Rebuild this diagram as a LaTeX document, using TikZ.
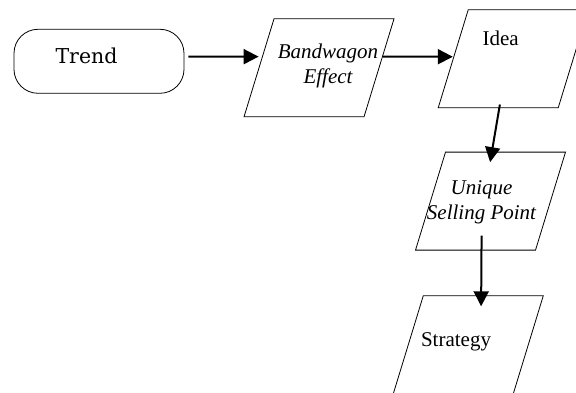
\documentclass[tikz,border=0pt]{standalone}
\usepackage{fontspec}
\setmainfont{Liberation Serif}
\newfontfamily\trendfont{DejaVu Serif}
\usetikzlibrary{arrows.meta}

\begin{document}
\begin{tikzpicture}[x=1pt, y=1pt,
    box/.style={draw, line width=0.8pt, inner sep=0pt},
    slantbox/.style={box, minimum width=120pt, minimum height=98pt,
      xslant=0.306, transform shape},
    txt/.style={font=\fontsize{21}{25}\selectfont, align=center, inner sep=0pt},
    flow/.style={line width=2pt, -{Triangle[length=15pt, width=15pt]}}]
      \useasboundingbox (0,0) rectangle (576,393);
      \clip (0,0) rectangle (576,393);
      % Trend:
      %   rounded start box on the left
      \node[box, rounded corners=24pt, minimum width=170pt, minimum height=64pt]
        (trend) at (99,331.7) {};
      \node[txt, font=\trendfont\fontsize{20.5}{25}\selectfont, anchor=base]
        (trendtext) at (86.5,329.7) {Trend};
      % Bandwagon:
      %   first slanted box, text in italics
      \node[slantbox] (bandwagon) at (319,325.15) {};
      \node[txt, anchor=base] (bandwagontext) at (328,309.7)
        {\itshape Bandwagon\\\itshape Effect};
      % Idea:
      %   top right box, cut by the page edge
      \node[slantbox] (idea) at (513.2,334.15) {};
      \node[txt, anchor=base] (ideatext) at (500.7,347) {Idea};
      % UniqueSellingPoint:
      %   middle box of the right column
      \node[slantbox] (usp) at (490.5,191.85) {};
      \node[txt, anchor=base] (usptext) at (481.5,173)
        {\itshape Unique\\\itshape Selling Point};
      % Strategy:
      %   last box, bottom edge below the page
      \node[slantbox] (strategy) at (468.3,48.3) {};
      \node[txt, anchor=base] (strategytext) at (456,46.3) {Strategy};
      % connectors
      \draw[flow] ([xshift=4pt,yshift=4.6pt]trend.east) -- ([yshift=11.2pt]bandwagon.west);
      \draw[flow] ([xshift=3.4pt,yshift=11.2pt]bandwagon.east) -- ([yshift=2.1pt]idea.west);
      \draw[flow] ([xshift=1.8pt,yshift=3.7pt]idea.south) -- ([xshift=-15.5pt,yshift=-10.4pt]usp.north);
      \draw[flow] ([xshift=6.2pt,yshift=15pt]usp.south) -- ([xshift=-2.3pt,yshift=-11pt]strategy.north);
    \end{tikzpicture}
\end{document}
